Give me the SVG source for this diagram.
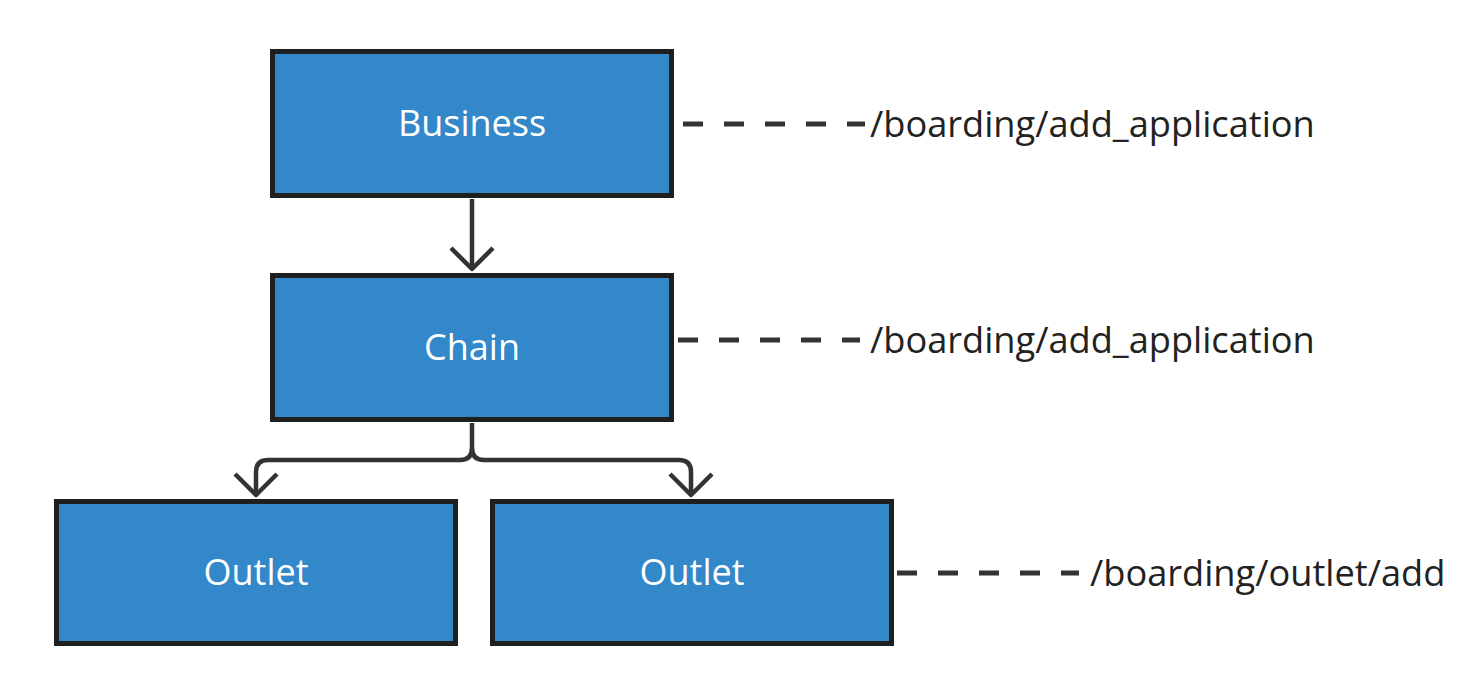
<svg xmlns="http://www.w3.org/2000/svg" width="1479" height="675" viewBox="0 0 1479 675">
<style>
.box{fill:#3288c9;stroke:#1f1f1f;stroke-width:5}
.lbl{font-family:"Open Sans","Noto Sans",sans-serif;font-size:36px;fill:#ffffff;text-anchor:middle}
.path{font-family:"Open Sans","Noto Sans",sans-serif;font-size:36.2px;fill:#222222}
.conn{fill:none;stroke:#333333;stroke-width:4.5;stroke-linejoin:round}
.dash{fill:none;stroke:#333333;stroke-width:5;stroke-dasharray:20 21}
</style>
<rect width="1479" height="675" fill="#ffffff"/>
<g id="business">
<rect class="box" x="272.5" y="51.5" width="399" height="144"/>
<text class="lbl" x="472" y="136">Business</text>
</g>
<g id="chain">
<rect class="box" x="272.5" y="275.5" width="399" height="144"/>
<text class="lbl" x="472" y="360">Chain</text>
</g>
<g id="outlet1">
<rect class="box" x="56.5" y="501.5" width="399" height="142"/>
<text class="lbl" x="256" y="585">Outlet</text>
</g>
<g id="outlet2">
<rect class="box" x="492.5" y="501.5" width="399" height="142"/>
<text class="lbl" x="692" y="585">Outlet</text>
</g>
<g id="connectors">
<path class="conn" d="M472,199 L472,269"/>
<path class="conn" d="M451,248 L472,269 L493,248"/>
<path class="conn" d="M472,423 L472,448 Q472,460 460,460 L268,460 Q256,460 256,472 L256,495"/>
<path class="conn" d="M472,448 Q472,460 484,460 L679,460 Q691,460 691,472 L691,495"/>
<path class="conn" d="M235,474 L256,495 L277,474"/>
<path class="conn" d="M670,474 L691,495 L712,474"/>
<path class="dash" d="M683,124 L865,124"/>
<path class="dash" d="M678,340 L860,340"/>
<path class="dash" d="M897,573 L1079,573"/>
</g>
<g id="labels">
<text class="path" x="870" y="137">/boarding/add_application</text>
<text class="path" x="870" y="353">/boarding/add_application</text>
<text class="path" x="1090" y="586">/boarding/outlet/add</text>
</g>
</svg>
